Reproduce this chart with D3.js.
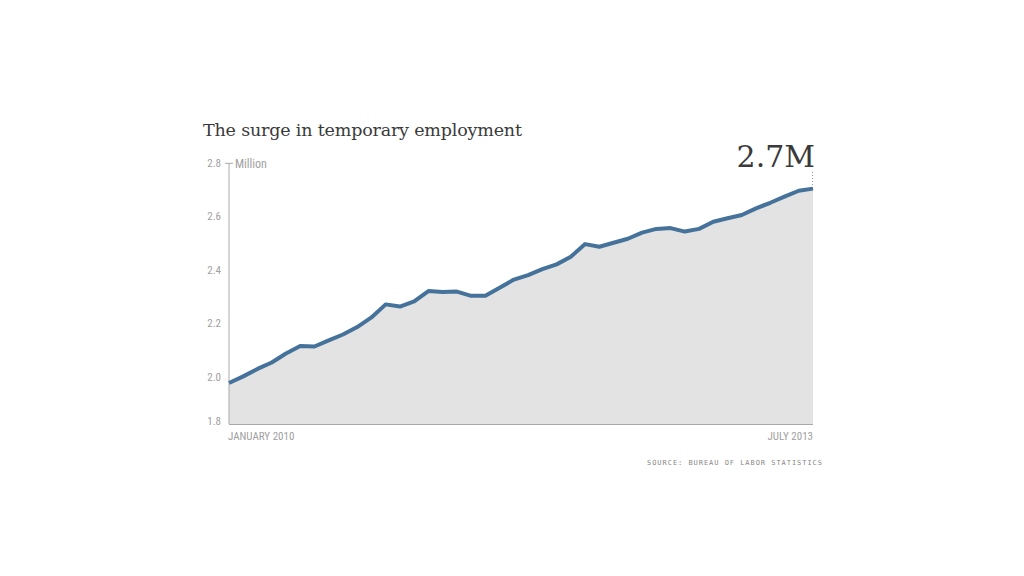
<!DOCTYPE html>
<html>
<head>
<meta charset="utf-8">
<script src="https://cdn.jsdelivr.net/npm/d3@7/dist/d3.min.js"></script>
<style>
  html, body { margin: 0; padding: 0; background: #fff; }
  svg { display: block; }
</style>
</head>
<body>
<div id="container"></div>
<script>
// data: temp help employment, millions, monthly from Jan 2010
const months = d3.range(42);
const values = [
  1.976, 2.001, 2.029, 2.053, 2.087, 2.115, 2.113, 2.136, 2.158, 2.186,
  2.222, 2.271, 2.263, 2.282, 2.321, 2.317, 2.319, 2.303, 2.303, 2.333,
  2.364, 2.381, 2.403, 2.421, 2.450, 2.497, 2.487, 2.502, 2.517, 2.540,
  2.554, 2.557, 2.544, 2.554, 2.581, 2.594, 2.606, 2.631, 2.652, 2.675,
  2.697, 2.705
];
const yTicks = [1.8, 2.0, 2.2, 2.4, 2.6, 2.8];
const xLabels = ['JANUARY 2010', 'JULY 2013'];
const title = 'The surge in temporary employment';
const lastLabel = '2.7M';
const unitLabel = 'Million';
const source = 'SOURCE: BUREAU OF LABOR STATISTICS';

const rows = months.map((m, i) => ({ m: m, v: values[i] }));

const W = 1024, H = 576;
const plot = { left: 229, right: 813, top: 163.3, bottom: 424 };

const svg = d3.select('#container').append('svg')
  .attr('width', W)
  .attr('height', H);

const x = d3.scaleLinear().domain([0, months.length - 1]).range([plot.left, plot.right]);
// 1.8 sits a little below the drawn baseline, so the area is cut at plot.bottom
const y = d3.scaleLinear().domain([1.8, 2.8]).range([430, plot.top]);

const condensed = '"Liberation Sans Narrow", "Roboto Condensed", Roboto, sans-serif';
const serif = '"DejaVu Serif", "Liberation Serif", serif';

// title
svg.append('text')
  .attr('x', 203).attr('y', 136)
  .attr('font-family', serif)
  .attr('font-size', 17.5)
  .attr('fill', '#3a3a3a')
  .attr('textLength', 319)
  .attr('lengthAdjust', 'spacing')
  .text(title);

// area
const area = d3.area()
  .x(d => x(d.m))
  .y0(plot.bottom)
  .y1(d => y(d.v));
svg.append('path')
  .datum(rows)
  .attr('fill', '#e3e3e3')
  .attr('d', area);

// axes lines
svg.append('line')
  .attr('x1', plot.left).attr('x2', plot.left)
  .attr('y1', plot.top).attr('y2', plot.bottom)
  .attr('stroke', '#aaa').attr('stroke-width', 1);
svg.append('line')
  .attr('x1', plot.left).attr('x2', plot.right)
  .attr('y1', plot.bottom + 0.5).attr('y2', plot.bottom + 0.5)
  .attr('stroke', '#aaa').attr('stroke-width', 1);
svg.append('line')
  .attr('x1', plot.left - 4).attr('x2', plot.left + 4)
  .attr('y1', y(2.8)).attr('y2', y(2.8))
  .attr('stroke', '#aaa').attr('stroke-width', 1);

// y tick labels
svg.selectAll('text.ytick')
  .data(yTicks)
  .enter().append('text')
    .attr('class', 'ytick')
    .attr('x', 221)
    .attr('y', d => Math.min(y(d), plot.bottom - 3))
    .attr('dy', '0.35em')
    .attr('text-anchor', 'end')
    .attr('font-family', condensed)
    .attr('font-size', 11)
    .attr('fill', '#a0a0a0')
    .text(d => d.toFixed(1));

svg.append('text')
  .attr('x', 235).attr('y', y(2.8))
  .attr('dy', '0.35em')
  .attr('font-family', condensed)
  .attr('font-size', 12)
  .attr('fill', '#a0a0a0')
  .text(unitLabel);

// x labels
svg.append('text')
  .attr('x', x(0) - 1).attr('y', 440)
  .attr('font-family', condensed)
  .attr('font-size', 11)
  .attr('fill', '#a0a0a0')
  .text(xLabels[0]);
svg.append('text')
  .attr('x', x(months.length - 1)).attr('y', 440)
  .attr('text-anchor', 'end')
  .attr('font-family', condensed)
  .attr('font-size', 11)
  .attr('fill', '#a0a0a0')
  .text(xLabels[1]);

// line
const line = d3.line()
  .x(d => x(d.m))
  .y(d => y(d.v));
svg.append('path')
  .datum(rows)
  .attr('fill', 'none')
  .attr('stroke', '#45729a')
  .attr('stroke-width', 4)
  .attr('stroke-linejoin', 'round')
  .attr('d', line);

// last value callout
const last = rows[rows.length - 1];
svg.append('line')
  .attr('x1', x(last.m) - 0.5).attr('x2', x(last.m) - 0.5)
  .attr('y1', 172).attr('y2', y(last.v) - 2)
  .attr('stroke', '#999')
  .attr('stroke-width', 1)
  .attr('stroke-dasharray', '1 2');
svg.append('text')
  .attr('x', x(last.m) + 2).attr('y', 167)
  .attr('text-anchor', 'end')
  .attr('font-family', serif)
  .attr('font-size', 30)
  .attr('fill', '#3a3a3a')
  .text(lastLabel);

// source
svg.append('text')
  .attr('x', 647).attr('y', 465)
  .attr('font-family', '"DejaVu Sans Mono", monospace')
  .attr('font-size', 7)
  .attr('fill', '#888')
  .attr('textLength', 175)
  .attr('lengthAdjust', 'spacing')
  .text(source);
</script>
</body>
</html>
